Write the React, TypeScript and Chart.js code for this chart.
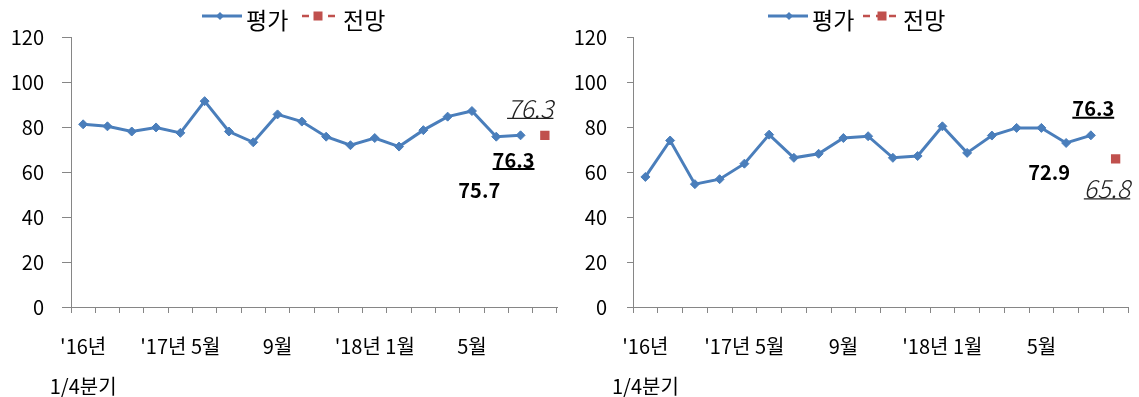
import React, { useEffect, useRef } from 'react';
import { Chart, registerables } from 'chart.js';

Chart.register(...registerables);

// ---------------- data ----------------
const categories: (string | string[])[] = [
  ["'16년", '1/4분기'], '', '', '', "'17년 5월", '', '', '', '9월', '', '', '',
  "'18년 1월", '', '', '', '5월', '', '', '',
];

const leftEvaluation: (number | null)[] = [
  81.2, 80.3, 78.0, 79.8, 77.4, 91.5, 78.0, 73.2, 85.6, 82.4,
  75.7, 71.9, 75.1, 71.3, 78.6, 84.6, 87.1, 75.7, 76.3, null,
];
const leftOutlook: (number | null)[] = [
  null, null, null, null, null, null, null, null, null, null,
  null, null, null, null, null, null, null, null, null, 76.3,
];

const rightEvaluation: (number | null)[] = [
  57.8, 74.0, 54.6, 56.8, 63.7, 76.6, 66.3, 68.1, 75.1, 75.9,
  66.3, 67.1, 80.3, 68.5, 76.2, 79.6, 79.6, 72.9, 76.3, null,
];
const rightOutlook: (number | null)[] = [
  null, null, null, null, null, null, null, null, null, null,
  null, null, null, null, null, null, null, null, null, 65.8,
];

const seriesNames = ['평가', '전망'];
const yMin = 0;
const yMax = 120;
const yStep = 20;

// ---------------- styles ----------------
const BLUE = '#4A7EBB';
const RED = '#C0504D';
const AXIS = '#868686';
const FONT = "'Noto Sans CJK KR', 'Noto Sans', sans-serif";
const BOLD_LABEL = `bold 20px ${FONT}`;
const ITALIC_LABEL = "italic 300 25px 'Noto Sans CJK KR', 'DejaVu Sans', sans-serif";

type LabelSpec = {
  ds: number;
  idx: number;
  dx: number;
  dy: number;
  style: 'bold' | 'italic';
  underline: boolean;
  ul: number;
};

type LegendSpec = {
  lineX0: number;
  lineX1: number;
  markX: number;
  textX: number;
};

type PanelProps = {
  width: number;
  height: number;
  evaluation: (number | null)[];
  outlook: (number | null)[];
  yAxisWidth: number;
  padRight: number;
  yTickLen: number;
  yTickPad: number;
  labels: LabelSpec[];
  legend: LegendSpec[];
};

function ChartPanel(p: PanelProps) {
  const ref = useRef<HTMLCanvasElement | null>(null);

  useEffect(() => {
    if (!ref.current) return;

    const dataLabelPlugin = {
      id: 'dataLabels',
      afterDatasetsDraw(chart: any) {
        const ctx = chart.ctx as CanvasRenderingContext2D;
        ctx.save();
        p.labels.forEach((l) => {
          const el = chart.getDatasetMeta(l.ds).data[l.idx];
          const v = chart.data.datasets[l.ds].data[l.idx] as number;
          if (!el || v == null) return;
          const x = el.x + l.dx;
          const y = el.y + l.dy;
          const text = v.toFixed(1);
          ctx.font = l.style === 'bold' ? BOLD_LABEL : ITALIC_LABEL;
          ctx.fillStyle = l.style === 'bold' ? '#000' : '#222';
          ctx.textAlign = 'center';
          ctx.textBaseline = 'middle';
          ctx.fillText(text, x, y);
          if (l.underline) {
            const w = ctx.measureText(text).width;
            ctx.strokeStyle = l.style === 'bold' ? '#000' : '#222';
            ctx.lineWidth = l.style === 'bold' ? 2 : 1.2;
            ctx.beginPath();
            ctx.moveTo(x - w / 2, y + l.ul);
            ctx.lineTo(x + w / 2, y + l.ul);
            ctx.stroke();
          }
        });
        ctx.restore();
      },
    };

    const legendPlugin = {
      id: 'lineLegend',
      afterDraw(chart: any) {
        const ctx = chart.ctx as CanvasRenderingContext2D;
        const lineY = 16;
        const textY = 20;
        ctx.save();
        p.legend.forEach((lg, i) => {
          const ds = chart.data.datasets[i];
          const color = ds.borderColor as string;
          ctx.strokeStyle = color;
          ctx.fillStyle = color;
          ctx.lineWidth = i === 0 ? 3 : 2.5;
          ctx.setLineDash(i === 0 ? [] : [7, 6]);
          ctx.beginPath();
          ctx.moveTo(lg.lineX0, lineY);
          ctx.lineTo(lg.lineX1, lineY);
          ctx.stroke();
          ctx.setLineDash([]);
          if (i === 0) {
            const r = 4;
            ctx.beginPath();
            ctx.moveTo(lg.markX, lineY - r);
            ctx.lineTo(lg.markX + r, lineY);
            ctx.lineTo(lg.markX, lineY + r);
            ctx.lineTo(lg.markX - r, lineY);
            ctx.closePath();
            ctx.fill();
          } else {
            const s = 9;
            ctx.fillRect(lg.markX - s / 2, lineY - s / 2, s, s);
          }
          ctx.fillStyle = '#000';
          ctx.font = `23px ${FONT}`;
          ctx.textAlign = 'left';
          ctx.textBaseline = 'middle';
          ctx.fillText(ds.label, lg.textX, textY);
        });
        ctx.restore();
      },
    };

    const chart = new Chart(ref.current, {
      type: 'line',
      data: {
        labels: categories,
        datasets: [
          {
            label: seriesNames[0],
            data: p.evaluation,
            borderColor: BLUE,
            backgroundColor: BLUE,
            borderWidth: 3,
            pointStyle: 'rectRot',
            pointRadius: 4.5,
            pointBorderWidth: 1,
            tension: 0,
          },
          {
            label: seriesNames[1],
            data: p.outlook,
            borderColor: RED,
            backgroundColor: RED,
            borderWidth: 0,
            showLine: false,
            pointStyle: 'rect',
            pointRadius: 6.6,
            pointBorderWidth: 0,
          },
        ],
      },
      options: {
        animation: false,
        responsive: false,
        layout: { padding: { top: 37, right: p.padRight, left: 0, bottom: 0 } },
        plugins: {
          legend: { display: false },
          tooltip: { enabled: false },
        },
        scales: {
          x: {
            offset: true,
            grid: {
              offset: true,
              drawOnChartArea: false,
              drawTicks: true,
              tickLength: 6,
              color: AXIS,
            },
            border: { color: AXIS, width: 1 },
            ticks: {
              autoSkip: false,
              maxRotation: 0,
              minRotation: 0,
              padding: 13,
              color: '#000',
              font: { family: FONT, size: 20, lineHeight: '40px' },
            },
            afterFit: (s: any) => {
              s.height = 90;
            },
          },
          y: {
            min: yMin,
            max: yMax,
            ticks: {
              stepSize: yStep,
              padding: p.yTickPad,
              color: '#000',
              font: { family: FONT, size: 20 },
            },
            grid: {
              drawOnChartArea: false,
              drawTicks: true,
              tickLength: p.yTickLen,
              color: AXIS,
            },
            border: { color: AXIS, width: 1 },
            afterFit: (s: any) => {
              s.width = p.yAxisWidth;
            },
          },
        },
      },
      plugins: [dataLabelPlugin, legendPlugin],
    } as any);

    return () => chart.destroy();
  }, []);

  return <canvas ref={ref} width={p.width} height={p.height} style={{ display: 'block' }} />;
}

export default function App() {
  useEffect(() => {
    document.body.style.margin = '0';
  }, []);

  return (
    <div style={{ display: 'flex', width: 1139, height: 397, background: '#fff' }}>
      <ChartPanel
        width={570}
        height={397}
        evaluation={leftEvaluation}
        outlook={leftOutlook}
        yAxisWidth={71}
        padRight={13}
        yTickLen={9}
        yTickPad={18}
        labels={[
          { ds: 0, idx: 17, dx: -17, dy: 54, style: 'bold', underline: false, ul: 0 },
          { ds: 0, idx: 18, dx: -7, dy: 24.7, style: 'bold', underline: true, ul: 9 },
          { ds: 1, idx: 19, dx: -14.6, dy: -27, style: 'italic', underline: true, ul: 10 },
        ]}
        legend={[
          { lineX0: 202, lineX1: 242, markX: 220, textX: 246 },
          { lineX0: 302, lineX1: 335, markX: 318, textX: 343 },
        ]}
      />
      <ChartPanel
        width={569}
        height={397}
        evaluation={rightEvaluation}
        outlook={rightOutlook}
        yAxisWidth={63}
        padRight={11}
        yTickLen={6}
        yTickPad={20}
        labels={[
          { ds: 0, idx: 17, dx: -17, dy: 29.5, style: 'bold', underline: false, ul: 0 },
          { ds: 0, idx: 18, dx: 2.4, dy: -26.6, style: 'bold', underline: true, ul: 9 },
          { ds: 1, idx: 19, dx: -8.6, dy: 30, style: 'italic', underline: true, ul: 10 },
        ]}
        legend={[
          { lineX0: 198, lineX1: 238, markX: 219, textX: 242 },
          { lineX0: 293, lineX1: 327, markX: 312, textX: 333 },
        ]}
      />
    </div>
  );
}
